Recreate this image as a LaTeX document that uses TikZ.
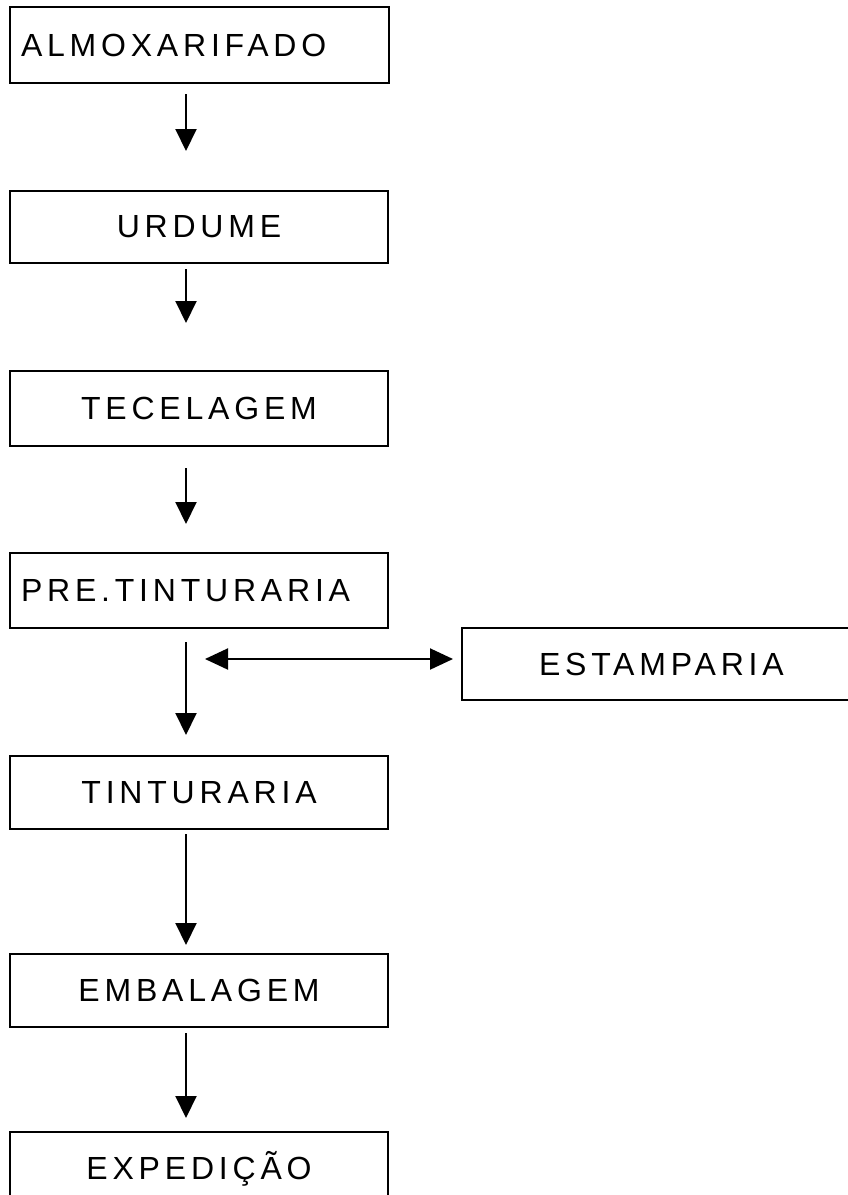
\documentclass[tikz,border=0pt]{standalone}
\usepackage{fontspec}
\setmainfont{Liberation Sans}[LetterSpace=15]
\usetikzlibrary{arrows.meta}
\begin{document}
\begin{tikzpicture}[x=1pt,y=-1pt,
  box/.style={draw, line width=2pt, inner xsep=11pt, inner ysep=0pt,
    text width=356pt, align=center, font=\fontsize{32}{38}\selectfont},
  leftbox/.style={box, align=left},
  arr/.style={line width=2pt, -{Triangle[length=22pt,width=21pt]}},
  biarr/.style={line width=2pt, {Triangle[length=23pt,width=21pt]}-{Triangle[length=23pt,width=21pt]}}]
\useasboundingbox (0,0) rectangle (848,1195);
\clip (0,0) rectangle (848,1195);
% process boxes
\node[leftbox, minimum height=76pt, text width=357pt] (alm) at (199.5,45) {ALMOXARIFADO};
\node[box, minimum height=72pt] (urd) at (199,227) {URDUME};
\node[box, minimum height=75pt] (tec) at (199,408.5) {TECELAGEM};
\node[leftbox, minimum height=75pt] (pre) at (199,590.5) {PRE.TINTURARIA};
\node[box, minimum height=73pt] (tin) at (199,792.5) {TINTURARIA};
\node[box, minimum height=73pt] (emb) at (199,990.5) {EMBALAGEM};
\node[box, minimum height=73pt] (exp) at (199,1168.5) {EXPEDIÇÃO};
\node[leftbox, minimum height=72pt, text width=420pt] (est) at (683,664) {\hspace*{66pt}ESTAMPARIA};
% axis of the flow arrows
\coordinate (ax) at (186,0);
% flow arrows
\draw[arr, shorten <=10pt, shorten >=39pt] (alm.south -| ax) -- (urd.north -| ax);
\draw[arr, shorten <=5pt, shorten >=47pt] (urd.south -| ax) -- (tec.north -| ax);
\draw[arr, shorten <=21pt, shorten >=28pt] (tec.south -| ax) -- (pre.north -| ax);
\draw[arr, shorten <=13pt, shorten >=20pt] (pre.south -| ax) -- (tin.north -| ax);
\draw[arr, shorten <=4pt, shorten >=8pt] (tin.south -| ax) -- (emb.north -| ax);
\draw[arr, shorten <=5pt, shorten >=13pt] (emb.south -| ax) -- (exp.north -| ax);
% exchange with the printing section
\coordinate (ex) at (186,659);
\draw[biarr, shorten <=19pt, shorten >=8pt] (ex) -- (ex -| est.west);
\end{tikzpicture}
\end{document}
